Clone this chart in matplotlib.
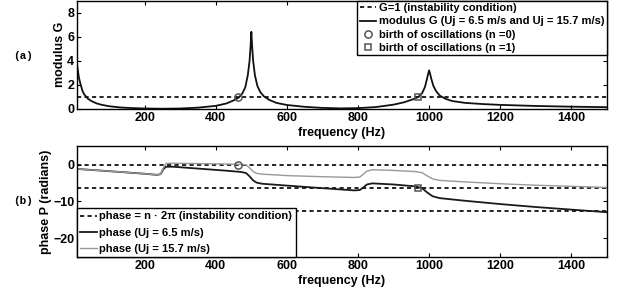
"""Modulus and phase of the loop gain, with birth-of-oscillation markers."""

import numpy as np
import matplotlib
matplotlib.use("Agg")
import matplotlib.pyplot as plt

plt.rcParams["font.family"] = ["Liberation Sans", "DejaVu Sans"]
plt.rcParams["font.weight"] = "bold"
plt.rcParams["axes.labelweight"] = "bold"

# modulus G
freq_g = [10, 15, 20, 25, 30, 40, 50, 65, 80, 100, 130, 160, 200, 250, 300, 350,
          400, 430, 450, 465, 475, 483, 490, 495, 498, 500, 502, 505, 510, 517,
          525, 535, 550, 570, 600, 650, 700, 750, 800, 850, 900, 930, 955, 970,
          980, 988, 994, 998, 1000, 1002, 1006, 1012, 1020, 1030, 1045, 1065,
          1100, 1150, 1200, 1300, 1400, 1500]
modulus_g = [3.6, 2.6, 2.0, 1.5, 1.2, 0.85, 0.65, 0.45, 0.33, 0.22, 0.12, 0.07,
             0.03, 0.01, 0.03, 0.1, 0.25, 0.45, 0.7, 0.95, 1.3, 1.8, 2.8, 4.0,
             5.3, 6.4, 5.3, 4.0, 2.8, 1.9, 1.4, 1.05, 0.75, 0.5, 0.32, 0.17,
             0.08, 0.04, 0.06, 0.15, 0.35, 0.55, 0.8, 1.0, 1.3, 1.8, 2.5, 3.0,
             3.2, 3.0, 2.5, 1.9, 1.45, 1.1, 0.85, 0.65, 0.5, 0.4, 0.33, 0.24,
             0.18, 0.14]

# phase P (radians)
freq_p = [10, 100, 200, 235, 245, 252, 260, 280, 350, 420, 470, 485, 495, 505,
          515, 530, 600, 700, 790, 805, 815, 825, 840, 900, 960, 980, 995, 1010,
          1030, 1100, 1200, 1300, 1400, 1500]
phase_low = [-1.2, -1.8, -2.5, -2.8, -2.6, -1.3, -0.6, -0.6, -1.1, -1.6, -2.0,
             -2.3, -3.2, -4.3, -4.9, -5.2, -5.7, -6.4, -7.0, -6.9, -6.2, -5.4,
             -5.1, -5.4, -5.9, -6.4, -7.6, -8.6, -9.1, -9.8, -10.7, -11.5,
             -12.2, -12.9]
phase_high = [-1.2, -1.8, -2.5, -2.8, -2.6, -1.0, 0.3, 0.35, 0.25, 0.15, 0.05,
              -0.1, -0.9, -1.9, -2.4, -2.6, -3.0, -3.3, -3.5, -3.4, -2.6, -1.8,
              -1.4, -1.6, -1.9, -2.2, -3.1, -3.9, -4.3, -4.7, -5.2, -5.6,
              -5.9, -6.2]

birth_freq = [463, 968]
birth_phase = [0, -2 * np.pi]
phase_levels = [0, -2 * np.pi, -4 * np.pi]

fig = plt.figure(figsize=(6.27, 2.95), dpi=100)
ax1 = fig.add_axes([0.123, 0.631, 0.845, 0.367])
ax2 = fig.add_axes([0.123, 0.129, 0.845, 0.376])

dash = (0, (2.5, 2))
grey = "#555555"
leg_font = {"weight": "bold", "size": 8}

# top panel
ax1.axhline(1, color="black", lw=1.2, ls=dash, label="G=1 (instability condition)")
ax1.plot(freq_g, modulus_g, color="#111111", lw=1.3,
         label="modulus G (Uj = 6.5 m/s and Uj = 15.7 m/s)")
ax1.plot(birth_freq[0], 1, "o", ms=5.2, mfc="none", mec=grey, mew=1.1,
         label="birth of oscillations (n =0)")
ax1.plot(birth_freq[1], 1, "s", ms=4.6, mfc="none", mec=grey, mew=1.1,
         label="birth of oscillations (n =1)")
ax1.set_xlim(10, 1500)
ax1.set_ylim(0, 9)
ax1.set_yticks([0, 2, 4, 6, 8])
ax1.set_ylabel("modulus G", fontsize=9, labelpad=1)
ax1.set_xlabel("frequency (Hz)", fontsize=9)
ax1.legend(loc="upper right", prop=leg_font, borderaxespad=0, handlelength=1.5,
           handletextpad=0.2, labelspacing=0.28, fancybox=False,
           edgecolor="black", framealpha=1, borderpad=0.25)

# bottom panel
for i, lvl in enumerate(phase_levels):
    ax2.axhline(lvl, color="black", lw=1.2, ls=dash,
                label="phase = n \u00b7 2\u03c0 (instability condition)" if i == 0 else None)
ax2.plot(freq_p, phase_low, color="#1a1a1a", lw=1.3, label="phase (Uj = 6.5 m/s)")
ax2.plot(freq_p, phase_high, color="#999999", lw=1.0, label="phase (Uj = 15.7 m/s)")
ax2.plot(birth_freq[0], birth_phase[0], "o", ms=5.2, mfc="none", mec=grey, mew=1.1)
ax2.plot(birth_freq[1], birth_phase[1], "s", ms=4.6, mfc="none", mec=grey, mew=1.1)
ax2.set_xlim(10, 1500)
ax2.set_ylim(-25, 5)
ax2.set_yticks([-20, -10, 0])
ax2.set_ylabel("phase P (radians)", fontsize=9, labelpad=1)
ax2.set_xlabel("frequency (Hz)", fontsize=9)
ax2.legend(loc="lower left", prop=leg_font, borderaxespad=0, handlelength=1.5,
           handletextpad=0.2, labelspacing=0.55, fancybox=False,
           edgecolor="black", framealpha=1, borderpad=0.3)

for ax in (ax1, ax2):
    ax.set_xticks([200, 400, 600, 800, 1000, 1200, 1400])
    ax.tick_params(direction="in", length=3, width=0.8, top=True, right=True,
                   labelsize=9, pad=2)
    for lbl in ax.get_xticklabels() + ax.get_yticklabels():
        lbl.set_fontweight("bold")
    for sp in ax.spines.values():
        sp.set_linewidth(1.0)
    ax.xaxis.set_label_coords(0.5, -0.165)

fig.text(0.021, 0.81, "(a)", family="Liberation Mono", fontsize=8, va="center")
fig.text(0.021, 0.32, "(b)", family="Liberation Mono", fontsize=8, va="center")

fig.savefig("out.png", dpi=100)
